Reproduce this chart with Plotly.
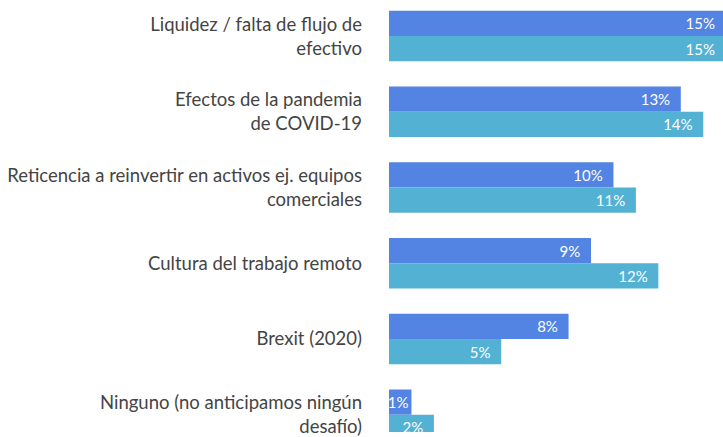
import plotly.graph_objects as go

categorias = [
    "Liquidez / falta de flujo de<br>efectivo",
    "Efectos de la pandemia<br>de COVID-19",
    "Reticencia a reinvertir en activos ej. equipos<br>comerciales",
    "Cultura del trabajo remoto",
    "Brexit (2020)",
    "Ninguno (no anticipamos ningún<br>desafío)",
]
serie_a = [15, 13, 10, 9, 8, 1]
serie_b = [15, 14, 11, 12, 5, 2]

COLOR_A = "#5383E3"
COLOR_B = "#53B1D3"
PAD = "\u00a0\u00a0"


def _labels(vals):
    # valores pequeños sin relleno para que quepan en la barra
    return [f"{v}%" if v < 2 else f"{v}%{PAD}" for v in vals]


fig = go.Figure()
for vals, color, name in ((serie_a, COLOR_A, "A"), (serie_b, COLOR_B, "B")):
    fig.add_trace(
        go.Bar(
            x=vals,
            y=categorias,
            orientation="h",
            name=name,
            marker=dict(color=color, line=dict(width=0)),
            text=_labels(vals),
            textposition="inside",
            insidetextanchor="end",
            textangle=0,
            constraintext="none",
            insidetextfont=dict(family="Lato", size=15, color="white"),
            hoverinfo="skip",
        )
    )

fig.update_layout(
    width=723,
    height=437,
    barmode="group",
    bargap=0.334,
    bargroupgap=0,
    showlegend=False,
    plot_bgcolor="white",
    paper_bgcolor="white",
    margin=dict(l=389, r=0, t=0, b=0),
    font=dict(family="Lato", size=18.5, color="#444444"),
)
fig.update_xaxes(
    range=[0, 14.88],
    visible=False,
    showgrid=False,
    zeroline=False,
)
fig.update_yaxes(
    range=[5.228, -0.476],
    showgrid=False,
    zeroline=False,
    showline=False,
    ticks="",
    ticklabelstandoff=26,
    tickfont=dict(family="Lato", size=18.5, color="#444444"),
)

# sin margen en el body para que la figura ocupe toda la ventana
fig.write_html(
    "out.html",
    config={"displayModeBar": False},
    post_script="document.body.style.margin='0';document.body.style.overflow='hidden';",
)
